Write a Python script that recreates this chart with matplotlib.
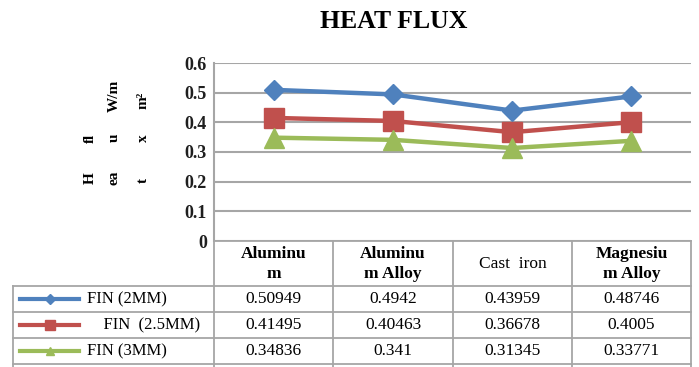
import matplotlib.pyplot as plt

plt.rcParams['font.family'] = ['Liberation Serif', 'DejaVu Serif']

materials = ['Aluminu\nm', 'Aluminu\nm Alloy', 'Cast  iron', 'Magnesiu\nm Alloy']
header_weights = ['bold', 'bold', 'normal', 'bold']
series_names = ['FIN (2MM)', '    FIN  (2.5MM)', 'FIN (3MM)']
fin_2mm = [0.50949, 0.4942, 0.43959, 0.48746]
fin_25mm = [0.41495, 0.40463, 0.36678, 0.4005]
fin_3mm = [0.34836, 0.341, 0.31345, 0.33771]
y_ticks = [0, 0.1, 0.2, 0.3, 0.4, 0.5, 0.6]
y_tick_labels = ['0', '0.1', '0.2', '0.3', '0.4', '0.5', '0.6']

colors = ['#4F81BD', '#C0504D', '#9BBB59']
markers = ['D', 's', '^']
msizes = [10, 15, 14]
key_msizes = [5, 6.5, 6]
grid_c = '#A6A6A6'

W, H = 699, 367
fig = plt.figure(figsize=(W / 100, H / 100), dpi=100)

# plot area in pixel coords
x0, x1, y_top, y_bot = 214, 691, 63, 241
ax = fig.add_axes([x0 / W, 1 - y_bot / H, (x1 - x0) / W, (y_bot - y_top) / H])

series = [fin_2mm, fin_25mm, fin_3mm]
xs = list(range(len(materials)))
for vals, c, m, ms in zip(series, colors, markers, msizes):
    ax.plot(xs, vals, color=c, lw=3.2, marker=m, markersize=ms, zorder=3)

ax.set_xlim(-0.5, len(materials) - 0.5)
ax.set_ylim(0, 0.6)
ax.set_yticks(y_ticks)
ax.set_yticklabels(y_tick_labels, fontsize=13, fontweight='bold', color='#1F1F1F')
ax.set_xticks([])
ax.tick_params(axis='y', length=0, pad=5)
ax.yaxis.grid(True, color=grid_c, lw=1.5)
ax.set_axisbelow(True)
for s in ['top', 'right', 'bottom']:
    ax.spines[s].set_visible(False)
ax.spines['left'].set_color(grid_c)
ax.spines['left'].set_linewidth(1.5)

# overlay in pixel coordinates for title, broken y label and data table
ov = fig.add_axes([0, 0, 1, 1], facecolor='none')
ov.set_xlim(0, W)
ov.set_ylim(H, 0)
ov.axis('off')

ov.text(394, 22, 'HEAT FLUX', ha='center', va='center', fontsize=18.5, fontweight='bold')

ylabel_parts = [('fl', 90, 138), ('H', 90, 178), ('W/m', 114, 96), ('u', 114, 138),
                ('ea', 114, 178), ('m²', 143, 100), ('x', 143, 138), ('t', 143, 180)]
for t, px, py in ylabel_parts:
    ov.text(px, py, t, rotation=90, ha='center', va='center', fontsize=11, fontweight='bold')

# table grid
col_edges = [214, 333, 453, 572, 691]
row_edges = [286, 312, 338, 364]
tl = dict(color=grid_c, lw=1.3)
ov.plot([x0, x1], [y_bot, y_bot], **tl)
for r in row_edges:
    ov.plot([13, x1], [r, r], **tl)
ov.plot([13, 13], [286, H], **tl)
for cx in col_edges:
    ov.plot([cx, cx], [y_bot, H], **tl)

for i, (name, w) in enumerate(zip(materials, header_weights)):
    cx = (col_edges[i] + col_edges[i + 1]) / 2
    ov.text(cx, 264, name, ha='center', va='center', fontsize=12.5, fontweight=w,
            linespacing=1.35)

for r, (vals, name, c, m, kms) in enumerate(zip(series, series_names, colors, markers, key_msizes)):
    cy = row_edges[r] + 13
    ov.plot([20, 79], [cy, cy], color=c, lw=3)
    ov.plot([49.5], [cy], color=c, marker=m, markersize=kms)
    ov.text(87, cy, name, ha='left', va='center', fontsize=12)
    for i, v in enumerate(vals):
        cx = (col_edges[i] + col_edges[i + 1]) / 2
        ov.text(cx, cy, str(v), ha='center', va='center', fontsize=12.5)

fig.savefig('out.png', dpi=100)
